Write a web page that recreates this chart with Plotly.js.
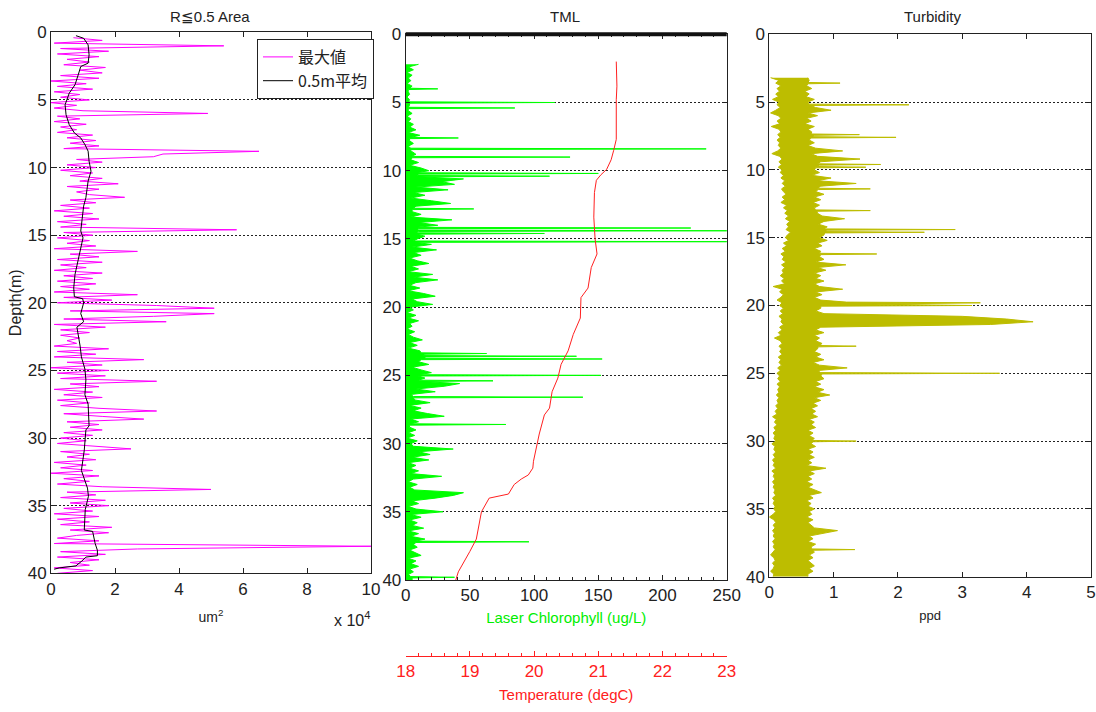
<!DOCTYPE html>
<html>
<head>
<meta charset="utf-8">
<script src="https://cdn.plot.ly/plotly-3.0.1.min.js"></script>
<style>html,body{margin:0;padding:0;background:#fff;}</style>
</head>
<body>
<div id="chart" style="width:1096px;height:712px;"></div>
<script>
// ---------- shared depth grid (m), 0.4 .. 40.0 ----------
const depthGrid = [
0.4,0.6,0.8,1.0,1.2,1.4,1.6,1.8,2.0,2.2,
2.4,2.6,2.8,3.0,3.2,3.4,3.6,3.8,4.0,4.2,
4.4,4.6,4.8,5.0,5.2,5.4,5.6,5.8,6.0,6.2,
6.4,6.6,6.8,7.0,7.2,7.4,7.6,7.8,8.0,8.2,
8.4,8.6,8.8,9.0,9.2,9.4,9.6,9.8,10.0,10.2,
10.4,10.6,10.8,11.0,11.2,11.4,11.6,11.8,12.0,12.2,
12.4,12.6,12.8,13.0,13.2,13.4,13.6,13.8,14.0,14.2,
14.4,14.6,14.8,15.0,15.2,15.4,15.6,15.8,16.0,16.2,
16.4,16.6,16.8,17.0,17.2,17.4,17.6,17.8,18.0,18.2,
18.4,18.6,18.8,19.0,19.2,19.4,19.6,19.8,20.0,20.2,
20.4,20.6,20.8,21.0,21.2,21.4,21.6,21.8,22.0,22.2,
22.4,22.6,22.8,23.0,23.2,23.4,23.6,23.8,24.0,24.2,
24.4,24.6,24.8,25.0,25.2,25.4,25.6,25.8,26.0,26.2,
26.4,26.6,26.8,27.0,27.2,27.4,27.6,27.8,28.0,28.2,
28.4,28.6,28.8,29.0,29.2,29.4,29.6,29.8,30.0,30.2,
30.4,30.6,30.8,31.0,31.2,31.4,31.6,31.8,32.0,32.2,
32.4,32.6,32.8,33.0,33.2,33.4,33.6,33.8,34.0,34.2,
34.4,34.6,34.8,35.0,35.2,35.4,35.6,35.8,36.0,36.2,
36.4,36.6,36.8,37.0,37.2,37.4,37.6,37.8,38.0,38.2,
38.4,38.6,38.8,39.0,39.2,39.4,39.6,39.8,40.0
];

// ---------- Panel 1: R<=0.5 Area, max value (x10^4 um^2), on depthGrid ----------
const areaMax = [
0.7,1.6,0.1,5.4,0.3,1.8,0.2,1.5,0.5,1.2,
0.4,1.7,0.9,1.6,0.3,1.5,0.0,1.1,0.2,1.3,
0.1,0.9,0.3,1.2,0.0,0.8,0.1,1.0,4.9,0.2,
0.9,0.1,1.1,0.3,0.8,0.2,1.3,0.5,1.4,0.6,
1.5,0.4,6.5,3.5,3.2,0.8,1.6,0.5,1.4,0.3,
1.3,0.6,1.6,0.9,2.1,0.5,1.5,0.8,1.2,2.3,
0.6,1.4,0.3,1.2,0.1,1.3,0.4,1.5,0.2,1.1,
0.3,5.8,0.4,1.3,0.2,1.2,0.5,1.4,0.1,2.7,
0.6,1.5,0.2,1.6,0.3,1.1,0.1,1.6,0.4,1.3,
0.2,1.4,0.3,1.2,0.1,2.7,0.4,1.9,0.2,3.3,
5.1,0.6,5.1,3.2,0.4,3.6,0.1,1.7,0.3,1.2,
0.3,0.9,0.5,0.8,0.1,1.8,0.2,1.4,0.1,2.9,
0.5,1.6,0.0,1.8,0.2,1.7,0.3,3.3,0.6,1.5,
0.1,1.3,0.4,1.6,0.2,1.2,0.3,1.5,3.3,0.4,
1.6,2.9,0.5,1.5,0.6,1.6,0.4,1.3,0.3,1.1,
0.2,1.5,2.5,0.3,1.2,0.5,1.4,0.1,1.1,0.3,
1.3,0.0,1.5,0.4,1.2,0.2,1.6,5.0,0.5,1.4,
0.3,1.7,0.6,1.8,0.4,1.3,0.1,1.5,0.2,1.2,
0.3,1.9,0.6,1.8,0.8,0.2,1.5,0.1,10.0,2.7,
0.3,1.7,0.2,1.5,0.6,1.2,0.1,1.3,0.2
];

// 0.5 m running mean (x10^4 um^2)
const meanDepth = [0.25,0.44,0.93,1.67,2.28,2.53,3.15,3.88,4.5,4.86,5.36,6.09,6.83,7.44,7.81,8.3,8.79,9.53,10.27,11.0,12.23,12.85,13.46,14.69,15.2,16.2,17.1,17.9,18.9,19.55,19.7,20.0,20.8,21.4,21.8,22.3,23.2,24.0,24.9,25.7,26.8,27.5,28.4,29.1,29.4,30.9,32.4,33.7,34.3,35.3,36.8,36.9,37.8,38.3,38.7,38.8,39.1,39.45,39.6,39.7];
const areaMean  = [0.78,1.02,1.16,1.19,1.16,0.93,0.85,0.75,0.57,0.52,0.44,0.47,0.57,0.73,0.93,1.06,1.16,1.19,1.25,1.16,1.09,1.02,0.99,0.93,1.0,0.91,0.83,0.75,0.71,0.73,0.99,1.02,0.93,1.02,0.81,0.85,0.91,0.95,1.06,1.09,1.06,1.16,1.19,1.19,1.09,1.04,0.95,1.14,1.17,1.07,1.04,1.3,1.38,1.45,1.45,1.09,0.96,0.78,0.26,0.1];

// ---------- Panel 2: Laser Chlorophyll (ug/L) ----------
const chlDepth = [
2.2,2.4,2.6,2.8,3.0,3.2,3.4,3.6,3.8,3.95,
4.0,4.05,4.2,4.4,4.6,4.8,4.95,5.0,5.05,5.2,
5.35,5.4,5.45,5.6,5.8,6.0,6.2,6.4,6.6,6.8,
7.0,7.2,7.4,7.55,7.6,7.65,7.8,8.0,8.2,8.35,
8.4,8.45,8.6,8.8,8.95,9.0,9.05,9.2,9.4,9.6,
9.8,10.0,10.15,10.2,10.25,10.35,10.4,10.45,10.6,10.8,
11.0,11.2,11.4,11.6,11.8,12.0,12.2,12.4,12.6,12.75,
12.8,12.85,13.0,13.2,13.4,13.6,13.8,14.0,14.15,14.2,
14.25,14.35,14.4,14.45,14.55,14.6,14.65,14.8,15.0,15.15,
15.2,15.25,15.4,15.6,15.8,16.0,16.2,16.4,16.6,16.8,
17.0,17.2,17.4,17.6,17.8,18.0,18.2,18.4,18.6,18.8,
19.0,19.2,19.4,19.6,19.8,20.0,20.2,20.4,20.6,20.8,
21.0,21.2,21.4,21.6,21.8,22.0,22.2,22.4,22.6,22.8,
23.0,23.2,23.35,23.4,23.45,23.55,23.6,23.65,23.75,23.8,
23.85,24.0,24.2,24.4,24.6,24.8,24.95,25.0,25.05,25.2,
25.35,25.4,25.45,25.6,25.8,26.0,26.2,26.4,26.55,26.6,
26.65,26.8,27.0,27.2,27.4,27.6,27.8,28.0,28.2,28.4,
28.55,28.6,28.65,28.8,29.0,29.2,29.4,29.6,29.8,30.0,
30.2,30.4,30.6,30.8,31.0,31.2,31.4,31.6,31.8,32.0,
32.2,32.4,32.6,32.8,33.0,33.2,33.4,33.6,33.8,34.0,
34.2,34.4,34.6,34.8,35.0,35.2,35.4,35.6,35.8,36.0,
36.2,36.4,36.6,36.8,37.0,37.15,37.2,37.25,37.4,37.6,
37.8,38.0,38.2,38.4,38.6,38.8,39.0,39.2,39.4,39.6,
39.75,39.8,39.85,40.0
];
const chlorophyll = [
10,2,6,1,5,2,4,1,5,3,
25,2,2,3,1,3,2,116,3,3,
2,85,2,2,5,1,4,2,6,3,
8,2,11,4,41,3,3,6,2,4,
234,3,5,8,4,128,5,4,10,3,
12,18,8,150,10,9,112,12,45,28,
38,8,33,6,15,4,20,35,8,6,
53,5,5,12,4,36,10,25,8,222,
10,9,255,10,8,108,9,15,9,6,
255,7,20,5,24,6,12,3,9,18,
4,10,2,21,6,25,8,3,11,2,
14,23,5,9,21,3,6,1,8,2,
10,3,5,1,7,2,6,13,3,9,
2,11,12,63,15,14,133,15,15,153,
12,10,18,5,12,20,10,152,10,15,
10,68,12,42,30,8,23,4,6,138,
6,7,19,3,12,6,17,30,4,10,
4,78,3,3,8,2,7,1,9,4,
6,37,10,19,5,18,2,8,3,10,
4,28,6,2,9,3,7,45,37,23,
5,10,2,8,29,4,12,3,9,5,
14,2,10,4,15,8,96,8,6,9,
3,7,12,2,8,4,10,3,6,2,
4,38,5,5
];

// Temperature (degC)
const tempDepth = [2.0,3.8,4.8,7.7,8.5,9.2,9.9,10.3,10.7,11.6,13.4,15.0,16.1,17.1,18.6,19.3,20.8,22.0,23.2,24.2,25.2,26.2,27.4,27.9,29.3,30.6,31.3,31.8,32.3,32.6,33.0,33.7,34.0,35.0,37.0,37.9,39.4,40.0];
const temperature = [21.28,21.29,21.28,21.28,21.24,21.2,21.13,21.04,20.97,20.94,20.93,20.95,20.98,20.89,20.84,20.73,20.72,20.61,20.53,20.42,20.37,20.28,20.24,20.16,20.08,20.02,19.99,19.98,19.91,19.8,19.69,19.6,19.3,19.18,19.1,19.0,18.82,18.78];

// ---------- Panel 3: Turbidity (ppd) ----------
// right edge of the band (incl. spikes)
const turbHighDepth = [
3.2,3.4,3.55,3.6,3.65,3.8,4.0,4.2,4.4,4.6,
4.8,5.0,5.15,5.2,5.25,5.4,5.6,5.8,6.0,6.2,
6.4,6.6,6.8,7.0,7.2,7.35,7.4,7.45,7.55,7.6,
7.65,7.8,8.0,8.2,8.4,8.6,8.8,9.0,9.2,9.4,
9.55,9.6,9.65,9.75,9.8,9.85,10.0,10.2,10.4,10.6,
10.8,11.0,11.2,11.35,11.4,11.45,11.6,11.8,12.0,12.2,
12.4,12.6,12.8,12.95,13.0,13.05,13.2,13.4,13.6,13.8,
14.0,14.2,14.35,14.4,14.45,14.55,14.6,14.65,14.8,15.0,
15.2,15.4,15.6,15.8,16.0,16.15,16.2,16.25,16.4,16.6,
16.8,17.0,17.2,17.4,17.6,17.8,18.0,18.2,18.4,18.6,
18.8,19.0,19.2,19.4,19.6,19.75,19.8,19.9,20.0,20.05,
20.2,20.4,20.6,20.8,21.0,21.2,21.4,21.6,21.8,22.0,
22.2,22.4,22.6,22.8,22.95,23.0,23.05,23.2,23.4,23.6,
23.8,24.0,24.2,24.4,24.6,24.8,24.95,25.0,25.05,25.2,
25.4,25.6,25.8,26.0,26.2,26.4,26.6,26.8,27.0,27.2,
27.4,27.6,27.8,28.0,28.2,28.4,28.6,28.8,29.0,29.2,
29.4,29.6,29.8,29.95,30.0,30.05,30.2,30.4,30.6,30.8,
31.0,31.2,31.4,31.6,31.8,32.0,32.2,32.4,32.6,32.8,
33.0,33.2,33.4,33.6,33.8,34.0,34.2,34.4,34.6,34.8,
35.0,35.2,35.4,35.6,35.8,36.0,36.2,36.4,36.6,36.8,
37.0,37.2,37.4,37.6,37.8,37.95,38.0,38.05,38.2,38.4,
38.6,38.8,39.0,39.2,39.4,39.6,39.8,40.0
];
const turbHigh = [
0.6,0.62,0.6,1.1,0.6,0.58,0.66,0.55,0.62,0.57,
0.7,0.6,0.62,2.17,0.65,0.72,0.96,0.6,0.75,0.58,
0.65,0.55,0.7,0.6,0.66,0.65,1.4,0.7,0.68,1.97,
0.65,0.62,0.7,0.6,0.72,1.14,0.65,0.75,1.41,0.8,
0.75,1.73,0.78,0.75,1.5,0.72,0.7,0.78,0.66,0.96,
0.75,1.35,0.8,0.75,1.57,0.76,0.72,0.85,0.7,0.8,
0.68,0.78,0.7,0.72,1.57,0.74,0.75,0.82,1.17,0.85,
0.76,0.9,0.85,2.89,0.9,0.88,2.41,0.86,0.85,0.78,
0.9,0.75,0.82,0.7,0.8,0.78,1.67,0.8,0.78,0.85,
0.72,1.19,0.75,0.88,0.7,0.8,0.72,0.85,0.7,0.78,
1.14,0.72,0.82,0.7,0.8,1.2,3.28,1.6,3.15,0.8,
0.8,0.72,0.85,3.0,3.69,4.1,3.44,0.8,0.72,0.85,
0.7,0.78,0.72,0.82,0.78,1.35,0.76,0.75,0.7,0.8,
0.72,0.85,0.68,0.78,1.21,0.75,0.8,3.58,0.82,0.8,
0.85,0.72,0.8,0.7,0.85,0.75,0.94,0.7,0.8,0.68,
0.75,0.65,0.72,0.66,0.75,0.62,0.7,0.65,0.72,0.6,
0.68,0.62,0.7,0.66,1.35,0.68,0.65,0.72,0.6,0.68,
0.62,0.7,0.6,0.66,0.58,0.88,0.62,0.7,0.6,0.66,
0.58,0.68,0.6,0.7,0.81,0.62,0.68,0.58,0.65,0.6,
0.7,0.62,0.66,0.58,0.68,0.6,0.65,0.7,1.06,0.85,
0.62,0.68,0.6,0.72,0.65,0.66,1.33,0.68,0.7,0.62,
0.68,0.6,0.66,0.7,0.62,0.68,0.6,0.6
];
// left edge of the band, on depthGrid from 3.2 m
const turbLow = [
0.02,0.15,0.1,0.18,0.12,0.16,0.1,0.14,0.05,0.15,
0.12,0.17,0.1,0.02,0.14,0.18,0.12,0.16,0.03,0.15,
0.18,0.13,0.17,0.12,0.16,0.14,0.18,0.13,0.04,0.16,
0.2,0.15,0.19,0.14,0.2,0.17,0.22,0.18,0.24,0.2,
0.25,0.19,0.22,0.26,0.2,0.24,0.18,0.27,0.22,0.28,
0.24,0.3,0.25,0.32,0.27,0.3,0.26,0.33,0.28,0.25,
0.3,0.22,0.27,0.2,0.25,0.18,0.23,0.2,0.26,0.19,
0.24,0.2,0.22,0.17,0.23,0.19,0.24,0.06,0.2,0.16,
0.22,0.18,0.12,0.2,0.16,0.22,0.17,0.21,0.15,0.2,
0.18,0.22,0.16,0.2,0.14,0.18,0.08,0.17,0.2,0.15,
0.19,0.16,0.2,0.14,0.18,0.15,0.19,0.13,0.17,0.12,
0.16,0.13,0.17,0.12,0.16,0.13,0.15,0.11,0.15,0.12,
0.14,0.1,0.13,0.09,0.12,0.05,0.11,0.08,0.12,0.07,
0.1,0.06,0.09,0.07,0.1,0.04,0.09,0.07,0.1,0.06,
0.09,0.05,0.08,0.06,0.1,0.04,0.08,0.06,0.09,0.05,
0.08,0.06,0.09,0.07,0.1,0.05,0.08,0.06,0.09,0.07,
0.1,0.06,0.0,0.07,0.1,0.06,0.09,0.05,0.08,0.06,
0.09,0.05,0.08,0.06,0.09,0.05,0.02,0.07,0.09,0.05,
0.08,0.06,0.02,0.07,0.06
];

// tick labels
const depthTicks = [0,5,10,15,20,25,30,35,40];
const areaTicks = [0,2,4,6,8,10];
const chlTicks = [0,50,100,150,200,250];
const tempTicks = [18,19,20,21,22,23];
const turbTicks = [0,1,2,3,4,5];

const depthTurbLow = depthGrid.slice(14);

const W = 1096, H = 712;
const TXT = "'Liberation Sans', Arial, sans-serif";
const TICKF = {family:"'Liberation Sans', Arial, sans-serif", size:17, color:'#222'};
const OLIVE = '#bdbd00';

const traces = [
  {x: areaMax, y: depthGrid, xaxis:'x', yaxis:'y', type:'scatter', mode:'lines', name:'最大値',
   line:{color:'#ff00ff', width:1}},
  {x: areaMean, y: meanDepth, xaxis:'x', yaxis:'y', type:'scatter', mode:'lines', name:'0.5m平均',
   line:{color:'#000000', width:1}},
  {x: chlorophyll, y: chlDepth, xaxis:'x2', yaxis:'y2', type:'scatter', mode:'lines', showlegend:false,
   fill:'tozerox', fillcolor:'#00ff00', line:{color:'#00ff00', width:1}},
  {x: temperature, y: tempDepth, xaxis:'x4', yaxis:'y2', type:'scatter', mode:'lines', showlegend:false,
   line:{color:'#ff2020', width:1}},
  {x: turbLow, y: depthTurbLow, xaxis:'x3', yaxis:'y3', type:'scatter', mode:'lines', showlegend:false,
   line:{color:OLIVE, width:1}},
  {x: turbHigh, y: turbHighDepth, xaxis:'x3', yaxis:'y3', type:'scatter', mode:'lines', showlegend:false,
   fill:'tonextx', fillcolor:OLIVE, line:{color:OLIVE, width:1}}
];

function yAx(dom, anchor, extra){
  return Object.assign({domain:dom, anchor:anchor, range:[40,0], tickvals:depthTicks,
    ticks:'inside', ticklen:4, tickcolor:'#222', showline:true, mirror:'ticks', linecolor:'#222', linewidth:1,
    showgrid:true, gridcolor:'#222', gridwidth:1, griddash:'2px,2px', zeroline:false,
    tickfont:TICKF, automargin:false}, extra||{});
}
function xAx(dom, anchor, range, tv, extra){
  return Object.assign({domain:dom, anchor:anchor, range:range, tickvals:tv,
    ticks:'inside', ticklen:5, tickcolor:'#222', showline:true, mirror:'ticks', linecolor:'#222', linewidth:1,
    showgrid:false, zeroline:false, tickfont:TICKF, automargin:false}, extra||{});
}

const d1x=[51/W,371/W], d1y=[1-573.3/H,1-32.3/H];
const d2x=[405.7/W,726.7/W], d2y=[1-580/H,1-34.3/H];
const d3x=[769.3/W,1091/W], d3y=[1-576.7/H,1-34.3/H];

const layout = {
  width:W, height:H, margin:{l:0,r:0,t:0,b:0},
  paper_bgcolor:'#fff', plot_bgcolor:'#fff',
  font:{family:TXT, size:14, color:'#222'},
  showlegend:true,
  legend:{x:257/W, y:1-39/H, xanchor:'left', yanchor:'top', bordercolor:'#222', borderwidth:1,
    bgcolor:'#fff', font:{family:"'Noto Sans CJK JP',sans-serif", size:16, color:'#222'}, traceorder:'normal',
    tracegroupgap:0, itemwidth:30},
  xaxis: xAx(d1x,'y',[0,10],areaTicks,{title:{text:'um<sup>2</sup>', font:{size:14}, standoff:14}}),
  yaxis: yAx(d1y,'x',{title:{text:'Depth(m)', font:{size:16}, standoff:2}}),
  xaxis2: xAx(d2x,'y2',[0,250],chlTicks,{minor:{dtick:10, ticks:'inside', ticklen:3, tickcolor:'#222'},
     title:{text:'Laser Chlorophyll (ug/L)', font:{size:15, color:'#00ee00'}, standoff:8}}),
  yaxis2: yAx(d2y,'x2'),
  xaxis3: xAx(d3x,'y3',[0,5],turbTicks,{title:{text:'ppd', font:{size:13}, standoff:9}}),
  yaxis3: yAx(d3y,'x3'),
  xaxis4: {overlaying:'x2', anchor:'free', position:1-656/H, side:'bottom', range:[18,23], tickvals:tempTicks,
     ticks:'inside', ticklen:5, tickcolor:'#ff2020', showline:true, linecolor:'#ff2020', linewidth:1,
     minor:{dtick:0.2, ticks:'inside', ticklen:3, tickcolor:'#ff2020'},
     showgrid:false, zeroline:false, tickfont:Object.assign({}, TICKF, {color:'#ff2020'}),
     title:{text:'Temperature (degC)', font:{size:15, color:'#ff2020'}, standoff:9}, automargin:false},
  shapes:[
    {type:'line', xref:'x2 domain', yref:'y2 domain', x0:0, x1:1, y0:1, y1:1, line:{color:'#111', width:4}}
  ],
  annotations:[
    {text:'R≦0.5 Area', x:210/W, y:1-17/H, xref:'paper', yref:'paper', xanchor:'center', yanchor:'middle', showarrow:false, font:{size:15, color:'#222'}},
    {text:'TML', x:565/W, y:1-17/H, xref:'paper', yref:'paper', xanchor:'center', yanchor:'middle', showarrow:false, font:{size:15, color:'#222'}},
    {text:'Turbidity', x:932/W, y:1-17/H, xref:'paper', yref:'paper', xanchor:'center', yanchor:'middle', showarrow:false, font:{size:15, color:'#222'}},
    {text:'x 10<sup>4</sup>', x:352/W, y:1-619/H, xref:'paper', yref:'paper', xanchor:'center', yanchor:'middle', showarrow:false, font:{size:16, color:'#222'}}
  ]
};

Plotly.newPlot('chart', traces, layout, {staticPlot:true, displayModeBar:false});
</script>
</body>
</html>
